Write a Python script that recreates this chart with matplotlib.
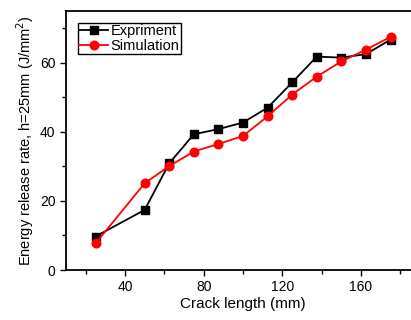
import matplotlib
matplotlib.use("Agg")
import matplotlib.pyplot as plt

crack_length = [25, 50, 62.5, 75, 87.5, 100, 112.5, 125, 137.5, 150, 162.5, 175]
experiment = [9.7, 17.4, 30.9, 39.3, 40.8, 42.7, 47.0, 54.3, 61.8, 61.5, 62.5, 66.7]
simulation = [7.7, 25.1, 30.1, 34.3, 36.5, 38.8, 44.5, 50.8, 56.0, 60.4, 63.8, 67.5]
x_ticks = [40, 80, 120, 160]
y_ticks = [0, 20, 40, 60]

plt.rcParams['font.family'] = ['Liberation Sans', 'DejaVu Sans']

fig = plt.figure(figsize=(4.11, 3.2), dpi=100)
W, H = 411, 320
left, right, top, bottom = 66, 420, 11, 270
ax = fig.add_axes([left / W, 1 - bottom / H, (right - left) / W, (bottom - top) / H])

ax.plot(crack_length, experiment, color='black', marker='s', markersize=5.3,
        linewidth=1.3, label='Expriment')
ax.plot(crack_length, simulation, color='red', marker='o', markersize=6.2,
        linewidth=1.3, label='Simulation')

ax.set_xlim(10, 190)
ax.set_ylim(0, 75)
ax.set_xticks(x_ticks)
ax.set_xticks([20, 60, 100, 140, 180], minor=True)
ax.set_yticks(y_ticks)
ax.set_yticks([10, 30, 50, 70], minor=True)
ax.tick_params(which='both', direction='out', labelsize=10, width=1)
ax.tick_params(which='major', length=4)
ax.tick_params(which='minor', length=3)
for s in ax.spines.values():
    s.set_linewidth(1.3)

ax.set_xlabel('Crack length (mm)', fontsize=11, labelpad=2)
ax.set_ylabel('Energy release rate, h=25mm (J/mm$^2$)', fontsize=10.5, labelpad=3)

leg = ax.legend(loc='upper left', bbox_to_anchor=(0.033, 0.955), fontsize=10.5,
                frameon=True, fancybox=False, edgecolor='black', framealpha=1,
                borderpad=0.1, handlelength=2.0, handletextpad=0.15,
                labelspacing=0.05, borderaxespad=0)
leg.get_frame().set_linewidth(1.0)

fig.savefig('out.png', dpi=100)
